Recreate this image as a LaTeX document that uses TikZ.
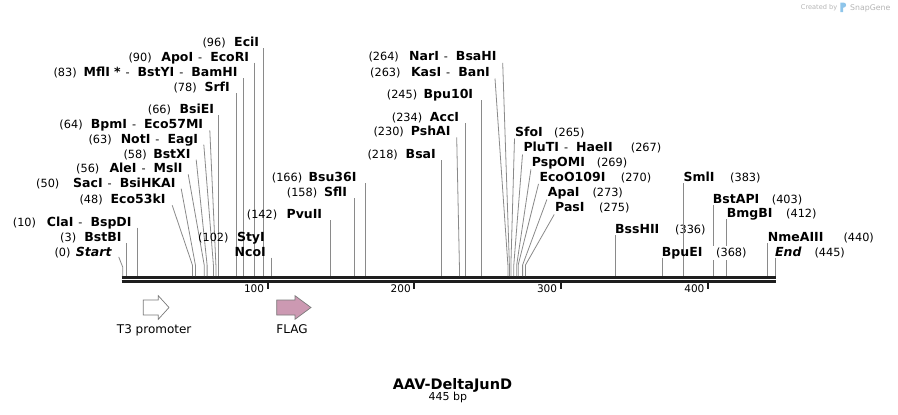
\documentclass[tikz,border=0pt]{standalone}
\usepackage{fontspec}
\setmainfont{DejaVu Sans}
\definecolor{cutgray}{HTML}{8A8A8A}
\definecolor{seqblack}{HTML}{1E1E1E}
\definecolor{flagpink}{HTML}{CC99B2}
\definecolor{featline}{HTML}{7A7A7A}
\definecolor{wmgray}{HTML}{B4B4B4}
\definecolor{wmblue}{HTML}{8EC5EA}
\newcommand\nmfont{\bfseries\fontsize{12.5}{14}\selectfont}
\newcommand\nufont{\fontsize{11.3}{13}\selectfont}
\newcommand\dsh{\hspace{5pt}{\mdseries\fontsize{11.3}{13}\selectfont -}\hspace{8pt}}
\tikzset{
  nmE/.style={font=\nmfont, inner sep=0pt, anchor=base east},
  nmW/.style={font=\nmfont, inner sep=0pt, anchor=base west},
  nu/.style={font=\nufont, inner sep=0pt, anchor=base west},
  cut/.style={draw=cutgray, line width=0.8pt},
  tick/.style={draw=seqblack, line width=2pt},
  ticklab/.style={font=\fontsize{10.5}{12}\selectfont, inner sep=0pt, anchor=base east},
  featlab/.style={font=\fontsize{12}{14}\selectfont, inner sep=0pt, anchor=base},
  featarrow/.style={draw=featline, line width=0.7pt},
}
\begin{document}
\begin{tikzpicture}[x=1pt,y=-1pt]
\useasboundingbox (0,0) rectangle (898,415);

% ---------- sequence ----------
\coordinate (seqL) at (121.7,277.3);
\coordinate (seqR) at (776,277.3);
\coordinate (seqL2) at (121.7,281.5);
\coordinate (seqR2) at (776,281.5);
\draw[seqblack, line width=2.7pt] (seqL) -- (seqR);
\draw[seqblack, line width=2.4pt] (seqL2) -- (seqR2);

% ticks
\foreach \tx/\tl in {267.7/100, 414.3/200, 560.7/300, 708/400}{
  \draw[tick] (\tx,282.2) -- (\tx,289.3);
  \node[ticklab] at (\tx-3.4,292.7) {\tl};
}

% ---------- left group ----------
\node[nmE] (l1) at (259.3,46.4) {EciI};
\node[nu]  (n1) at (202.3,46.4) {(96)};
\coordinate (s1) at (262.9,276);
\draw[cut] (l1.base east -| s1) ++(0,1.6) -- (s1);

\node[nmE] (l2) at (249.3,61.1) {ApoI\dsh EcoRI};
\node[nu]  (n2) at (128.3,61.1) {(90)};
\coordinate (s2) at (254.1,276);
\draw[cut] (l2.base east -| s2) ++(0,1.6) -- (s2);

\node[nmE] (l3) at (237.7,76.7) {MflI\hspace{4pt}*\dsh BstYI\dsh BamHI};
\node[nu]  (n3) at (53.3,76.7) {(83)};
\coordinate (s3) at (243.8,276);
\draw[cut] (l3.base east -| s3) ++(0,1.6) -- (s3);

\node[nmE] (l4) at (230,91.7) {SrfI};
\node[nu]  (n4) at (173.3,91.7) {(78)};
\coordinate (s4) at (236.5,276);
\draw[cut] (l4.base east -| s4) ++(0,1.6) -- (s4);

\node[nmE] (l5) at (214.3,113.4) {BsiEI};
\node[nu]  (n5) at (147.7,113.4) {(66)};
\coordinate (s5) at (218.8,276);
\draw[cut] (l5.base east -| s5) ++(0,1.6) -- (s5);

\node[nmE] (l6) at (203.3,128.7) {BpmI\dsh Eco57MI};
\node[nu]  (n6) at (59.3,128.7) {(64)};
\coordinate (s6) at (215.9,276);
\coordinate (k6) at (215.9,265);
\draw[cut] (l6.base east) ++(6.5,1.6) -- (k6) -- (s6);

\node[nmE] (l7) at (198.3,143.1) {NotI\dsh EagI};
\node[nu]  (n7) at (88.3,143.1) {(63)};
\coordinate (s7) at (213.4,276);
\coordinate (k7) at (213.4,265);
\draw[cut] (l7.base east) ++(5.5,1.6) -- (k7) -- (s7);

\node[nmE] (l8) at (190.7,158.1) {BstXI};
\node[nu]  (n8) at (123.3,158.1) {(58)};
\coordinate (s8) at (207.1,276);
\coordinate (k8) at (207.1,265);
\draw[cut] (l8.base east) ++(5.5,1.6) -- (k8) -- (s8);

\node[nmE] (l9) at (182.7,172.7) {AleI\dsh MslI};
\node[nu]  (n9) at (76,172.7) {(56)};
\coordinate (s9) at (204.2,276);
\coordinate (k9) at (204.2,265);
\draw[cut] (l9.base east) ++(5.5,1.6) -- (k9) -- (s9);

\node[nmE] (l10) at (175.7,187.1) {SacI\dsh BsiHKAI};
\node[nu]  (n10) at (36,187.1) {(50)};
\coordinate (s10) at (195.4,276);
\coordinate (k10) at (195.4,265);
\draw[cut] (l10.base east) ++(5.5,1.6) -- (k10) -- (s10);

\node[nmE] (l11) at (165.7,203.7) {Eco53kI};
\node[nu]  (n11) at (79.3,203.7) {(48)};
\coordinate (s11) at (192.4,276);
\coordinate (k11) at (192.4,265);
\draw[cut] (l11.base east) ++(6.5,1.6) -- (k11) -- (s11);

\node[nmE] (l12) at (131.7,226.1) {ClaI\dsh BspDI};
\node[nu]  (n12) at (12.7,226.1) {(10)};
\coordinate (s12) at (136.9,276);
\draw[cut] (l12.base east -| s12) ++(0,1.6) -- (s12);

\node[nmE] (l13) at (121.7,241.7) {BstBI};
\node[nu]  (n13) at (60,241.7) {(3)};
\coordinate (s13) at (126.6,276);
\draw[cut] (l13.base east -| s13) ++(0,1.6) -- (s13);

\node[nmE] (l14) at (111.7,256.1) {\itshape Start};
\node[nu]  (n14) at (54.3,256.1) {(0)};
\coordinate (s14) at (122.7,276);
\coordinate (k14) at (122.7,267);
\draw[cut] (l14.base east) ++(7,0.8) -- (k14) -- (s14);

% ---------- middle group ----------
\node[nmE] (l15) at (356.7,181.7) {Bsu36I};
\node[nu]  (n15) at (271.7,181.7) {(166)};
\coordinate (s15) at (365.6,276);
\draw[cut] (l15.base east -| s15) ++(0,1.6) -- (s15);

\node[nmE] (l16) at (347.3,196.7) {SflI};
\node[nu]  (n16) at (286.7,196.7) {(158)};
\coordinate (s16) at (353.9,276);
\draw[cut] (l16.base east -| s16) ++(0,1.6) -- (s16);

\node[nmE] (l17) at (322.3,218.4) {PvuII};
\node[nu]  (n17) at (246.7,218.4) {(142)};
\coordinate (s17) at (330.4,276);
\draw[cut] (l17.base east -| s17) ++(0,1.6) -- (s17);

\node[nmE] (l18) at (265,241.7) {StyI};
\node[nu]  (n18) at (198,241.7) {(102)};
\node[nmE] (l19) at (266,256.1) {NcoI};
\coordinate (s19) at (271.7,276);
\draw[cut] (l19.base east -| s19) ++(0,1.6) -- (s19);

% ---------- centre group ----------
\node[nmE] (l20) at (496.7,60.4) {NarI\dsh BsaHI};
\node[nu]  (n20) at (368.3,60.4) {(264)};
\coordinate (s20) at (509.4,276);
\coordinate (k20) at (509.4,265);
\draw[cut] (l20.base east) ++(6,2.4) -- (k20) -- (s20);

\node[nmE] (l21) at (490,76.1) {KasI\dsh BanI};
\node[nu]  (n21) at (370,76.1) {(263)};
\coordinate (s21) at (507.9,276);
\coordinate (k21) at (507.9,265);
\draw[cut] (l21.base east) ++(5,2.4) -- (k21) -- (s21);

\node[nmE] (l22) at (473.3,98.4) {Bpu10I};
\node[nu]  (n22) at (386.7,98.4) {(245)};
\coordinate (s22) at (481.3,276);
\draw[cut] (l22.base east -| s22) ++(0,1.6) -- (s22);

\node[nmE] (l23) at (459.3,121.7) {AccI};
\node[nu]  (n23) at (391.7,121.7) {(234)};
\coordinate (s23) at (465.5,276);
\draw[cut] (l23.base east -| s23) ++(0,1.6) -- (s23);

\node[nmE] (l24) at (450.7,135.7) {PshAI};
\node[nu]  (n24) at (373.3,135.7) {(230)};
\coordinate (s24) at (459.4,276);
\coordinate (k24) at (459.4,265);
\draw[cut] (l24.base east) ++(6,1.6) -- (k24) -- (s24);

\node[nmE] (l25) at (436,158.4) {BsaI};
\node[nu]  (n25) at (367.3,158.4) {(218)};
\coordinate (s25) at (441.8,276);
\draw[cut] (l25.base east -| s25) ++(0,1.6) -- (s25);

% ---------- right-centre group ----------
\node[nmW] (l26) at (515,136.1) {SfoI};
\node[nu]  (n26) at (554,136.1) {(265)};
\coordinate (s26) at (510.9,276);
\coordinate (k26) at (510.9,265);
\draw[cut] (l26.base west) ++(-0.5,2.4) -- (k26) -- (s26);

\node[nmW] (l27) at (523.3,151.7) {PluTI\dsh HaeII};
\node[nu]  (n27) at (630.7,151.7) {(267)};
\coordinate (s27) at (513.8,276);
\coordinate (k27) at (513.8,265);
\draw[cut] (l27.base west) ++(-0.8,2.8) -- (k27) -- (s27);

\node[nmW] (l28) at (531.7,166.7) {PspOMI};
\node[nu]  (n28) at (596.7,166.7) {(269)};
\coordinate (s28) at (516.7,276);
\coordinate (k28) at (516.7,265);
\draw[cut] (l28.base west) ++(-0.8,2.8) -- (k28) -- (s28);

\node[nmW] (l29) at (539.3,181.1) {EcoO109I};
\node[nu]  (n29) at (620.7,181.1) {(270)};
\coordinate (s29) at (518.2,276);
\coordinate (k29) at (518.2,265);
\draw[cut] (l29.base west) ++(-0.8,2.8) -- (k29) -- (s29);

\node[nmW] (l30) at (547.7,196.7) {ApaI};
\node[nu]  (n30) at (592.3,196.7) {(273)};
\coordinate (s30) at (522.6,276);
\coordinate (k30) at (522.6,265);
\draw[cut] (l30.base west) ++(-0.8,2.8) -- (k30) -- (s30);

\node[nmW] (l31) at (555,211.7) {PasI};
\node[nu]  (n31) at (599,211.7) {(275)};
\coordinate (s31) at (525.5,276);
\coordinate (k31) at (525.5,265);
\draw[cut] (l31.base west) ++(-0.8,2.8) -- (k31) -- (s31);

% ---------- right group ----------
\node[nmW] (l32) at (615,233.7) {BssHII};
\node[nu]  (n32) at (675,233.7) {(336)};
\coordinate (s32) at (615,276);
\draw[cut] (l32.base west -| s32) ++(0,1.6) -- (s32);

\node[nmW] (l33) at (683.3,181.7) {SmlI};
\node[nu]  (n33) at (730,181.7) {(383)};
\coordinate (s33) at (683.6,276);
\draw[cut] (l33.base west -| s33) ++(0,1.6) -- (s33);

\node[nmW] (l34) at (712.7,203.4) {BstAPI};
\node[nu]  (n34) at (771.7,203.4) {(403)};
\coordinate (s34) at (713,276);
\draw[cut] (l34.base west -| s34) ++(0,1.6) -- (s34);

\node[nmW] (l35) at (726.7,217.7) {BmgBI};
\node[nu]  (n35) at (786,217.7) {(412)};
\coordinate (s35) at (726.8,276);
\draw[cut] (l35.base west -| s35) ++(0,1.6) -- (s35);

\node[nmW] (l36) at (767.7,241.7) {NmeAIII};
\node[nu]  (n36) at (843.3,241.7) {(440)};
\coordinate (s36) at (767.8,276);
\draw[cut] (l36.base west -| s36) ++(0,1.6) -- (s36);

\node[nmW] (l37) at (661.7,256.1) {BpuEI};
\node[nu, fill=white, inner xsep=4pt, inner ysep=2pt] (n37) at (712,256.1) {(368)};
\coordinate (s37) at (661.9,276);
\draw[cut] (l37.base west -| s37) ++(0,1.6) -- (s37);

\node[nmW] (l38) at (775,256.1) {\itshape End};
\node[nu]  (n38) at (814.3,256.1) {(445)};
\coordinate (s38) at (775.2,276);
\draw[cut] (l38.base west -| s38) ++(0,1.6) -- (s38);

% ---------- features ----------
\draw[featarrow, fill=white] (143.3,300) -- (158.3,300) -- (158.3,295.7) -- (169,307.5)
  -- (158.3,319.3) -- (158.3,315) -- (143.3,315) -- cycle;
\node[featlab] (t3) at (154.2,333.3) {T3 promoter};
\draw[featarrow, fill=flagpink] (276.7,300) -- (295,300) -- (295,295.7) -- (311,307.5)
  -- (295,319.3) -- (295,315) -- (276.7,315) -- cycle;
\node[featlab] (flag) at (292,333.3) {FLAG};

% ---------- title ----------
\node[font=\bfseries\fontsize{14.5}{17}\selectfont, inner sep=0pt, anchor=base] (title) at (452.5,389.3) {AAV-DeltaJunD};
\node[font=\fontsize{11}{13}\selectfont, inner sep=0pt, anchor=base] (len) at (447.8,400.5) {445 bp};

% ---------- watermark ----------
\node[font=\fontsize{6.6}{8}\selectfont, text=wmgray, inner sep=0pt, anchor=base west] (wm1) at (800.7,9.8) {Created by};
\fill[wmblue] (840.3,12) -- (840.3,2.5) -- (843.5,2.5) arc[start angle=90, end angle=-90, radius=2.6pt] -- (843.2,7.7) -- (843.2,12) -- cycle;
\node[font=\fontsize{7.8}{9}\selectfont, text=wmgray, inner sep=0pt, anchor=base west] (wm2) at (850,10.3) {SnapGene};
\end{tikzpicture}
\end{document}
